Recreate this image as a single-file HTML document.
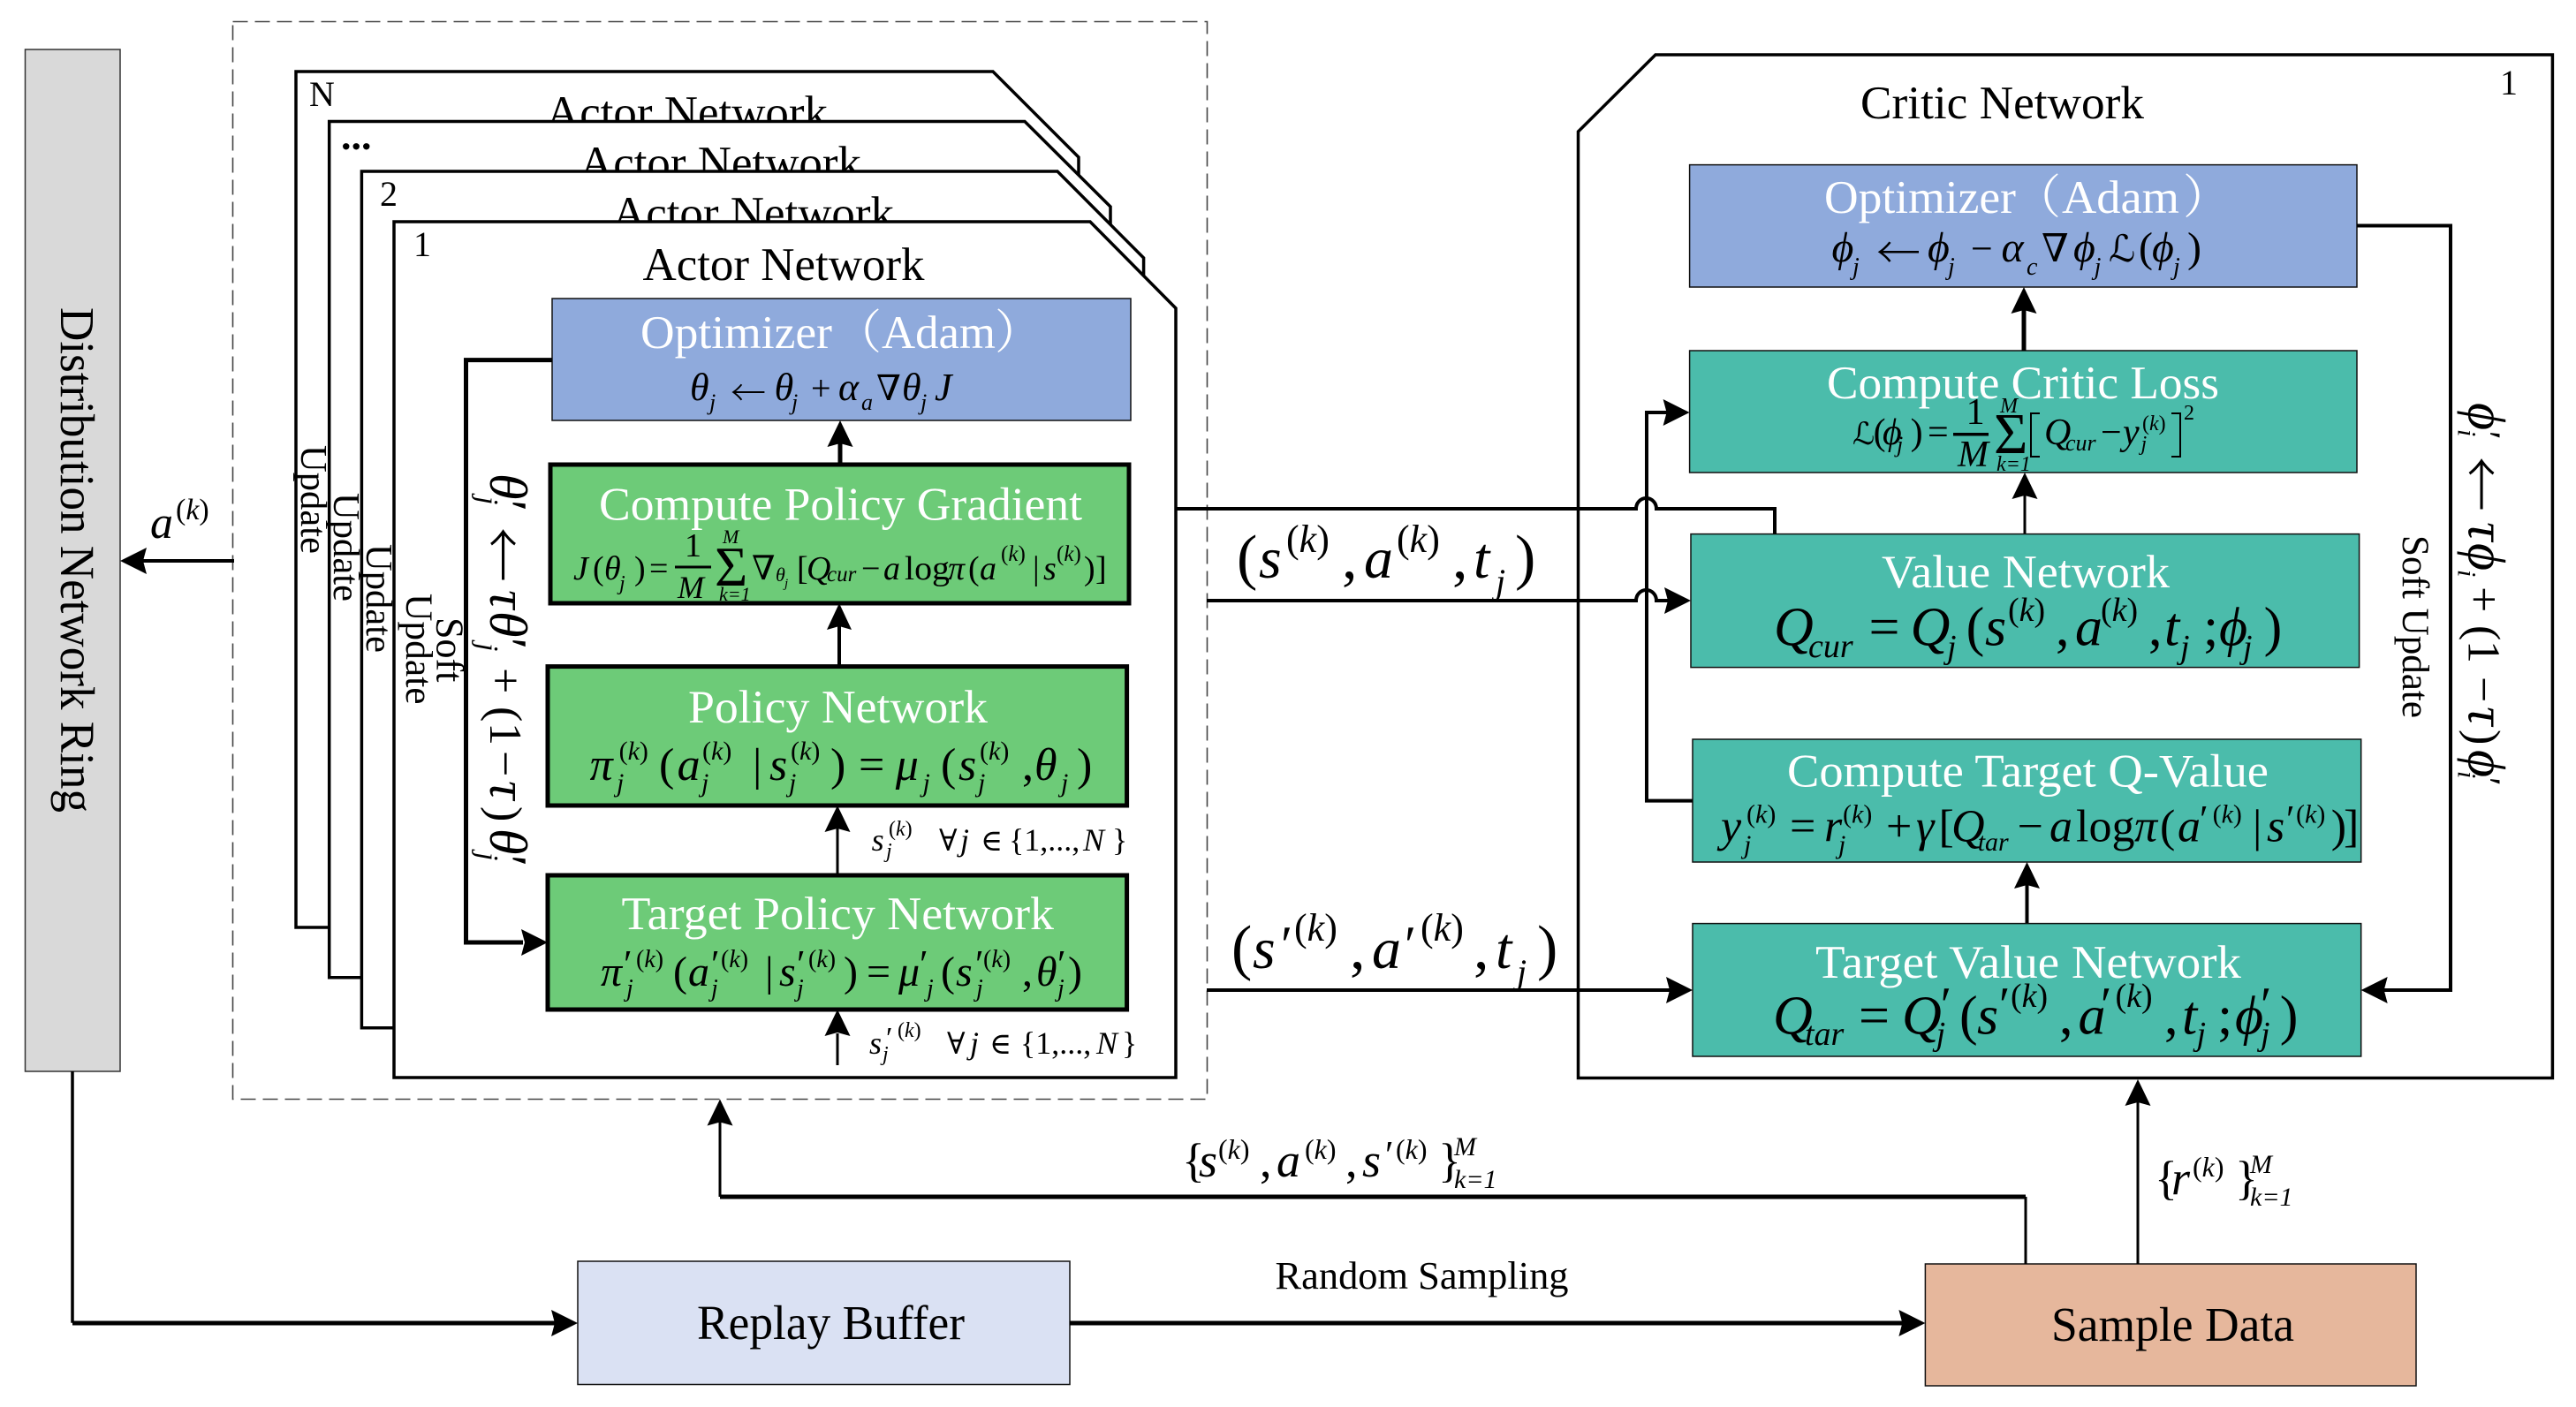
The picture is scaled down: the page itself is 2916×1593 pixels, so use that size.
<!DOCTYPE html>
<html><head><meta charset="utf-8"><style>
html,body{margin:0;padding:0;background:#fff}
svg{display:block}
text{font-family:"Liberation Serif","DejaVu Serif","Noto Serif CJK SC",serif;fill:#000}
.i{font-style:italic}
.w{fill:#fff}
.ar{font-family:"Noto Sans CJK SC",sans-serif;font-weight:300}
.p{fill:#fff;stroke:#000;stroke-width:3.5}
.l{fill:none;stroke:#000;stroke-width:4}
.t{fill:none;stroke:#000;stroke-width:5}
.n{fill:none;stroke:#000;stroke-width:3}
.g{fill:#6DCB78;stroke:#000;stroke-width:5}
.b{fill:#8FAADC;stroke:#111;stroke-width:1.5}
.c{fill:#4BBCAB;stroke:#111;stroke-width:1.5}
</style></head><body>
<svg xmlns="http://www.w3.org/2000/svg" width="2916" height="1593" viewBox="0 0 2916 1593">
<rect width="2916" height="1593" fill="#fff"/>

<!-- left bar -->
<rect x="28.5" y="56" width="107.5" height="1157" fill="#D9D9D9" stroke="#333" stroke-width="1.5"/>
<text transform="translate(69,348) rotate(90)" font-size="55" textLength="572" lengthAdjust="spacingAndGlyphs">Distribution Network Ring</text>

<!-- dashed group -->
<rect x="263.5" y="24.5" width="1103" height="1220" fill="none" stroke="#444" stroke-width="1.6" stroke-dasharray="17 8"/>

<!-- panels -->
<path class="p" d="M335,81 H1124 L1221,178 V1050 H335 Z" stroke-width="4"/>
<text x="777.5" y="145" font-size="53" text-anchor="middle" textLength="319" lengthAdjust="spacingAndGlyphs">Actor Network</text>
<text x="350" y="120" font-size="40">N</text>
<text transform="translate(341,504) rotate(90)" font-size="42.6">Update</text>

<path class="p" d="M372.7,137.5 H1160 L1257,234 V1106.7 H372.7 Z"/>
<text x="815.5" y="202" font-size="53" text-anchor="middle" textLength="319" lengthAdjust="spacingAndGlyphs">Actor Network</text>
<text x="386" y="169" font-size="46" font-weight="bold">...</text>
<text transform="translate(378,558) rotate(90)" font-size="42.6">Update</text>

<path class="p" d="M409.4,194 H1197 L1294.6,292 V1163.7 H409.4 Z"/>
<text x="852.5" y="259" font-size="53" text-anchor="middle" textLength="319" lengthAdjust="spacingAndGlyphs">Actor Network</text>
<text x="430" y="233" font-size="40">2</text>
<text transform="translate(415,616) rotate(90)" font-size="42.6">Update</text>

<path class="p" d="M446,251 H1234 L1331,349 V1220 H446 Z"/>
<text x="887" y="317" font-size="53" text-anchor="middle" textLength="319" lengthAdjust="spacingAndGlyphs">Actor Network</text>
<text x="468" y="290" font-size="40">1</text>
<text transform="translate(460,672) rotate(90)" font-size="43.5">Update</text>
<text transform="translate(494.5,699) rotate(90)" font-size="44">Soft</text>

<!-- actor boxes -->
<rect class="b" x="625" y="338" width="655" height="138"/>
<rect class="g" x="623" y="526" width="655" height="157"/>
<rect class="g" x="620" y="754.6" width="655.6" height="157.4"/>
<rect class="g" x="620" y="991" width="655.6" height="152"/>

<!-- actor box titles -->
<text class="w" x="725" y="394" font-size="53" textLength="217" lengthAdjust="spacingAndGlyphs">Optimizer</text>
<text class="w" x="945" y="394" font-size="53">（</text>
<text class="w" x="998" y="394" font-size="53" textLength="129" lengthAdjust="spacingAndGlyphs">Adam</text>
<text class="w" x="1126" y="394" font-size="53">）</text>
<text class="w" x="678" y="588.5" font-size="53" textLength="547" lengthAdjust="spacingAndGlyphs">Compute Policy Gradient</text>
<text class="w" x="779" y="818" font-size="53" textLength="339" lengthAdjust="spacingAndGlyphs">Policy Network</text>
<text class="w" x="703.5" y="1052" font-size="53" textLength="489.5" lengthAdjust="spacingAndGlyphs">Target Policy Network</text>

<!-- actor optimizer formula -->
<text class="i" y="453" font-size="44" x="781 876.6 949 1021 1058">θθαθJ</text>
<text y="453" font-size="40" x="918 992">+∇</text>
<text class="ar" x="827" y="459" font-size="40">←</text>
<text class="i" y="464" font-size="26" x="803 896 975 1042">jjaj</text>

<!-- J formula -->
<text class="i" y="656" font-size="38"><tspan x="649">J</tspan><tspan x="684">θ</tspan><tspan x="913">Q</tspan><tspan x="1000">a</tspan><tspan x="1073">π</tspan><tspan x="1109">a</tspan><tspan x="1181">s</tspan></text>
<text y="656" font-size="38"><tspan x="671">(</tspan><tspan x="718">)</tspan><tspan x="735">=</tspan><tspan x="851">∇</tspan><tspan x="902">[</tspan><tspan x="975">−</tspan><tspan x="1096">(</tspan><tspan x="1169">|</tspan><tspan x="1227">)</tspan><tspan x="1240">]</tspan></text>
<text x="1024" y="656" font-size="38" textLength="51" lengthAdjust="spacingAndGlyphs">log</text>
<text x="775" y="630" font-size="38">1</text>
<rect x="764" y="640.5" width="41" height="3" fill="#000"/>
<text class="i" x="767" y="677" font-size="36">M</text>
<text x="809" y="663" font-size="64">Σ</text>
<text class="i" x="818" y="615" font-size="22">M</text>
<text class="i" x="814" y="680" font-size="22">k=1</text>
<text class="i" x="701" y="668" font-size="24">j</text>
<text class="i" x="878" y="658" font-size="22">θ</text>
<text class="i" x="888" y="665" font-size="15">j</text>
<text class="i" x="936" y="658" font-size="25">cur</text>
<text y="635" font-size="25"><tspan x="1133">(<tspan class="i">k</tspan>)</tspan><tspan x="1196">(<tspan class="i">k</tspan>)</tspan></text>

<!-- pi formula -->
<text class="i" y="883" font-size="52" x="667.6 766.6 871 1013.7 1085 1171">πasμsθ</text>
<text y="883" font-size="52"><tspan x="746">(</tspan><tspan x="852">|</tspan><tspan x="940">)</tspan><tspan x="972">=</tspan><tspan x="1065">(</tspan><tspan x="1157">,</tspan><tspan x="1219">)</tspan></text>
<text y="860" font-size="30"><tspan x="700.6">(<tspan class="i">k</tspan>)</tspan><tspan x="795">(<tspan class="i">k</tspan>)</tspan><tspan x="895">(<tspan class="i">k</tspan>)</tspan><tspan x="1109">(<tspan class="i">k</tspan>)</tspan></text>
<text class="i" y="896" font-size="30" x="698 794 893 1044.5 1107 1201">jjjjjj</text>

<!-- pi prime formula -->
<text class="i" y="1116" font-size="48" x="680 779 882 1017 1082 1173">πasμsθ</text>
<text y="1116" font-size="48"><tspan x="762">(</tspan><tspan x="866">|</tspan><tspan x="955">)</tspan><tspan x="981">=</tspan><tspan x="1065">(</tspan><tspan x="1157">,</tspan><tspan x="1209">)</tspan></text>
<text y="1106" font-size="44" x="706 805 902 1041 1104 1197">′′′′′′</text>
<text y="1095" font-size="28"><tspan x="720">(<tspan class="i">k</tspan>)</tspan><tspan x="816">(<tspan class="i">k</tspan>)</tspan><tspan x="915">(<tspan class="i">k</tspan>)</tspan><tspan x="1113">(<tspan class="i">k</tspan>)</tspan></text>
<text class="i" y="1128" font-size="28" x="709 805 902 1049 1105 1197">jjjjjj</text>

<!-- annotations -->
<text class="i" x="986.6 1087" y="963" font-size="36">sj</text>
<text x="1006" y="946" font-size="24">(<tspan class="i">k</tspan>)</text>
<text class="i" x="1003" y="971" font-size="24">j</text>
<text x="1063" y="963" font-size="34">∀</text>
<text x="1110" y="963" font-size="34">∈</text>
<text x="1142" y="963" font-size="36">{1,...,</text>
<text class="i" x="1226" y="963" font-size="36">N</text>
<text x="1259" y="963" font-size="36">}</text>

<text class="i" x="984 1098" y="1193" font-size="36">sj</text>
<text x="1003" y="1186" font-size="34">′</text>
<text x="1016" y="1174" font-size="24">(<tspan class="i">k</tspan>)</text>
<text class="i" x="999" y="1201" font-size="24">j</text>
<text x="1072" y="1193" font-size="34">∀</text>
<text x="1120" y="1193" font-size="34">∈</text>
<text x="1155" y="1193" font-size="36">{1,...,</text>
<text class="i" x="1241" y="1193" font-size="36">N</text>
<text x="1270" y="1193" font-size="36">}</text>

<!-- actor rotated formula -->
<g transform="translate(555,0) rotate(90)">
<text class="i" y="0" font-size="60" x="536 668 692 884 938">θτθτθ</text>
<text y="0" font-size="60" x="566 722 968">′′′</text>
<text class="i" y="14" font-size="34" x="562 728 965">jjj</text>
<text class="ar" x="597" y="9" font-size="62">←</text>
<text y="0" font-size="52"><tspan x="756">+</tspan><tspan x="800">(</tspan><tspan x="818">1</tspan><tspan x="850">−</tspan><tspan x="913">)</tspan></text>
</g>

<!-- connectors for actor -->
<path class="t" d="M625,407.6 H527.5 V1067 H592"/>
<polygon points="620,1067 590,1052 594,1067 590,1082"/>
<path class="t" d="M951,526 V500"/>
<polygon points="951,476 965.5,506 951,502 936.5,506"/>
<path class="l" d="M950,754 V705"/>
<polygon points="950,683 964,713 950,709 936,713"/>
<path class="n" d="M948,991 V938"/>
<polygon points="948,912 962.5,942 948,938 933.5,942"/>
<path class="n" d="M948,1206 V1170"/>
<polygon points="948,1143 962.5,1173 948,1169 933.5,1173"/>

<!-- a(k) arrow -->
<path class="l" d="M265,635 H160"/>
<polygon points="136,635 166,620 162,635 166,650"/>
<text class="i" x="170" y="609" font-size="52">a</text>
<text x="199" y="588" font-size="34">(<tspan class="i">k</tspan>)</text>

<!-- critic panel -->
<path class="p" d="M1874,62 H2889.4 V1220.5 H1786.5 V149 Z" stroke-width="4"/>
<text x="2106" y="134" font-size="53" textLength="321" lengthAdjust="spacingAndGlyphs">Critic Network</text>
<text x="2830" y="107" font-size="40">1</text>

<rect class="b" x="1912.6" y="186.6" width="755.4" height="138.4"/>
<rect class="c" x="1912.6" y="397" width="755.4" height="138"/>
<rect class="c" x="1914" y="604.6" width="756.6" height="151"/>
<rect class="c" x="1916" y="837" width="756.7" height="139"/>
<rect class="c" x="1916" y="1045.6" width="756.7" height="150.4"/>

<text class="w" x="2065" y="241" font-size="53" textLength="217" lengthAdjust="spacingAndGlyphs">Optimizer</text>
<text class="w" x="2280" y="241" font-size="53">（</text>
<text class="w" x="2334" y="241" font-size="53" textLength="133" lengthAdjust="spacingAndGlyphs">Adam</text>
<text class="w" x="2471" y="241" font-size="53">）</text>
<text class="w" x="2068" y="451" font-size="53" textLength="444" lengthAdjust="spacingAndGlyphs">Compute Critic Loss</text>
<text class="w" x="2130" y="665" font-size="53" textLength="326" lengthAdjust="spacingAndGlyphs">Value Network</text>
<text class="w" x="2023" y="890.5" font-size="53" textLength="545" lengthAdjust="spacingAndGlyphs">Compute Target Q-Value</text>
<text class="w" x="2055" y="1107" font-size="53" textLength="482" lengthAdjust="spacingAndGlyphs">Target Value Network</text>

<!-- critic optimizer formula -->
<text class="i" y="296" font-size="48" x="2073.5 2182 2265.5 2347 2436">ϕϕαϕϕ</text>
<text class="ar" x="2124" y="304" font-size="50">←</text>
<text y="296" font-size="44"><tspan x="2231">−</tspan><tspan x="2311">∇</tspan></text>
<text x="2387" y="296" font-size="42">ℒ</text>
<text y="296" font-size="48"><tspan x="2421">(</tspan><tspan x="2476">)</tspan></text>
<text class="i" y="311" font-size="28" x="2097 2205 2294 2370.6 2460">jjcjj</text>

<!-- critic loss formula -->
<text x="2097" y="503" font-size="35">ℒ</text>
<text y="503" font-size="42"><tspan x="2120.6">(</tspan><tspan x="2162.6">)</tspan><tspan x="2182">=</tspan><tspan x="2378">−</tspan></text>
<text class="i" y="503" font-size="42" x="2131 2314 2403">ϕQy</text>
<text class="i" x="2147" y="512" font-size="26">j</text>
<text x="2225.6" y="480" font-size="42">1</text>
<rect x="2211" y="490" width="40" height="3.5" fill="#000"/>
<text class="i" x="2216" y="528" font-size="42">M</text>
<text x="2257" y="513" font-size="66">Σ</text>
<text class="i" x="2264" y="467" font-size="24">M</text>
<text class="i" x="2260" y="533" font-size="24">k=1</text>
<text class="i" x="2338" y="510" font-size="26">cur</text>
<text x="2425" y="487" font-size="24">(<tspan class="i">k</tspan>)</text>
<text class="i" x="2423.5" y="510" font-size="24">j</text>
<path d="M2309,468 H2299 V517 H2309 M2458,468 H2468 V517 H2458" fill="none" stroke="#000" stroke-width="2"/>
<text x="2472" y="475" font-size="24">2</text>

<!-- Q cur -->
<text class="i" y="730.6" font-size="62" x="2008 2162.6 2247 2349 2450 2512">QQsatϕ</text>
<text y="730.6" font-size="62"><tspan x="2115.5">=</tspan><tspan x="2225.6">(</tspan><tspan x="2327">,</tspan><tspan x="2432">,</tspan><tspan x="2494">;</tspan><tspan x="2562.6">)</tspan></text>
<text class="i" x="2047" y="744" font-size="38">cur</text>
<text class="i" y="745" font-size="38" x="2204 2468 2539">jjj</text>
<text y="703" font-size="38"><tspan x="2273">(<tspan class="i">k</tspan>)</tspan><tspan x="2378">(<tspan class="i">k</tspan>)</tspan></text>

<!-- target Q formula -->
<text class="i" y="952.6" font-size="52" x="1948 2065 2169 2209 2320 2416 2465 2566">yrγQaπas</text>
<text y="952.6" font-size="52"><tspan x="2026">=</tspan><tspan x="2135">+</tspan><tspan x="2194.5">[</tspan><tspan x="2283.6">−</tspan><tspan x="2350">log</tspan><tspan x="2445">(</tspan><tspan x="2550">|</tspan><tspan x="2638.7">)</tspan><tspan x="2653">]</tspan></text>
<text y="931.5" font-size="30"><tspan x="1977">(<tspan class="i">k</tspan>)</tspan><tspan x="2086">(<tspan class="i">k</tspan>)</tspan><tspan x="2504.6">(<tspan class="i">k</tspan>)</tspan><tspan x="2599">(<tspan class="i">k</tspan>)</tspan></text>
<text class="i" y="966" font-size="30" x="1974 2081">jj</text>
<text class="i" x="2238.7" y="963" font-size="30">tar</text>
<text y="942" font-size="44" x="2490 2588">′′</text>

<!-- Q tar -->
<text class="i" y="1170.7" font-size="62" x="2007 2153 2238 2352.5 2470 2530">QQsatϕ</text>
<text y="1170.7" font-size="62"><tspan x="2104">=</tspan><tspan x="2218">(</tspan><tspan x="2331">,</tspan><tspan x="2450">,</tspan><tspan x="2510">;</tspan><tspan x="2580.7">)</tspan></text>
<text class="i" x="2043" y="1183" font-size="38">tar</text>
<text class="i" y="1183" font-size="38" x="2191.6 2486.5 2559">jjj</text>
<text y="1140" font-size="38"><tspan x="2276">(<tspan class="i">k</tspan>)</tspan><tspan x="2394.5">(<tspan class="i">k</tspan>)</tspan></text>
<text y="1156" font-size="56" x="2196.7 2263 2378 2559">′′′′</text>

<!-- Soft update critic -->
<text transform="translate(2720,606) rotate(90)" font-size="43" textLength="207" lengthAdjust="spacingAndGlyphs">Soft Update</text>
<g transform="translate(2794.5,0) rotate(90)">
<text class="i" y="0" font-size="60" x="456 591 615 800 849">ϕτϕτϕ</text>
<text class="ar" x="517" y="9" font-size="62">←</text>
<text y="0" font-size="52"><tspan x="664">+</tspan><tspan x="708">(</tspan><tspan x="725">1</tspan><tspan x="766">−</tspan><tspan x="826">)</tspan></text>
<text y="-6" font-size="44" x="488 880">′′</text>
<text class="i" y="12" font-size="30" x="486 645 873">iii</text>
</g>

<!-- critic connectors -->
<path class="t" d="M2291,397 V350"/>
<polygon points="2291,325 2305.5,355 2291,351 2276.5,355"/>
<path class="n" d="M2292,604 V560"/>
<polygon points="2292,535 2306.5,565 2292,561 2277.5,565"/>
<path class="l" d="M2294.5,1045 V1000"/>
<polygon points="2294.5,976 2309,1006 2294.5,1002 2280,1006"/>
<path class="l" d="M2668,255.5 H2774 V1121 H2698"/>
<polygon points="2672.7,1121 2702.7,1106 2698.7,1121 2702.7,1136"/>
<path class="l" d="M1916,906.6 H1864 V467 H1888"/>
<polygon points="1912.6,467 1882.6,452 1886.6,467 1882.6,482"/>

<!-- crossing connectors -->
<path class="l" d="M1331,576 H1852 A11.5,12 0 0 1 1875,576 H2009 V604.6"/>
<path class="l" d="M1366,680 H1852 A11.5,12 0 0 1 1875,680 H1890"/>
<polygon points="1914,680 1884,665 1888,680 1884,695"/>
<path class="l" d="M1366,1121 H1892"/>
<polygon points="1916,1121 1886,1106 1890,1121 1886,1136"/>

<!-- (s,a,t) -->
<text class="i" y="654" font-size="66" x="1425 1544 1668">sat</text>
<text y="654" font-size="70"><tspan x="1400">(</tspan><tspan x="1519">,</tspan><tspan x="1644">,</tspan><tspan x="1715">)</tspan></text>
<text y="625" font-size="44"><tspan x="1456">(<tspan class="i">k</tspan>)</tspan><tspan x="1581">(<tspan class="i">k</tspan>)</tspan></text>
<text class="i" x="1693" y="672" font-size="40">j</text>

<text class="i" y="1096" font-size="66" x="1418 1553 1693">sat</text>
<text y="1096" font-size="70"><tspan x="1394">(</tspan><tspan x="1528">,</tspan><tspan x="1668">,</tspan><tspan x="1740">)</tspan></text>
<text y="1090" font-size="60" x="1450 1590">′′</text>
<text y="1065" font-size="44"><tspan x="1465">(<tspan class="i">k</tspan>)</tspan><tspan x="1608">(<tspan class="i">k</tspan>)</tspan></text>
<text class="i" x="1717" y="1114" font-size="40">j</text>

<!-- bottom boxes -->
<rect x="654" y="1428" width="557" height="139.5" fill="#DAE1F3" stroke="#111" stroke-width="1.5"/>
<text x="789" y="1516" font-size="55" textLength="303" lengthAdjust="spacingAndGlyphs">Replay Buffer</text>
<rect x="2179.4" y="1431" width="555.6" height="138" fill="#E6B79C" stroke="#111" stroke-width="1.5"/>
<text x="2322" y="1518" font-size="55" textLength="275" lengthAdjust="spacingAndGlyphs">Sample Data</text>
<text x="1443.5" y="1459" font-size="44" textLength="332" lengthAdjust="spacingAndGlyphs">Random Sampling</text>

<!-- bottom connectors -->
<path d="M82,1213 V1497.7" fill="none" stroke="#000" stroke-width="3.5"/>
<path class="t" d="M82,1498 H628"/>
<polygon points="654,1498 624,1483 628,1498 624,1513"/>
<path class="t" d="M1211,1498 H2156"/>
<polygon points="2179.4,1498 2149.4,1483 2153.4,1498 2149.4,1513"/>
<path class="n" d="M2293,1431 V1355"/>
<path class="t" d="M2293,1355 H815"/>
<path class="n" d="M815,1355 V1270"/>
<polygon points="815,1244.5 829.5,1274.5 815,1270.5 800.5,1274.5"/>
<path class="n" d="M2420,1431 V1245"/>
<polygon points="2420,1222 2434.5,1252 2420,1248 2405.5,1252"/>

<!-- batch labels -->
<text y="1332" font-size="54"><tspan x="1338">{</tspan><tspan x="1426">,</tspan><tspan x="1523">,</tspan><tspan x="1628">}</tspan></text>
<text class="i" y="1332" font-size="54" x="1357 1445 1542">sas</text>
<text y="1312" font-size="32"><tspan x="1379">(<tspan class="i">k</tspan>)</tspan><tspan x="1477">(<tspan class="i">k</tspan>)</tspan><tspan x="1580">(<tspan class="i">k</tspan>)</tspan></text>
<text y="1322" font-size="44" x="1568">′</text>
<text class="i" x="1646" y="1308" font-size="30">M</text>
<text class="i" x="1646" y="1345" font-size="30">k=1</text>

<text y="1352" font-size="54"><tspan x="2439">{</tspan><tspan x="2530">}</tspan></text>
<text class="i" x="2458" y="1352" font-size="54">r</text>
<text x="2482" y="1332" font-size="32">(<tspan class="i">k</tspan>)</text>
<text class="i" x="2547" y="1328" font-size="30">M</text>
<text class="i" x="2547" y="1365" font-size="30">k=1</text>
</svg>
</body></html>
